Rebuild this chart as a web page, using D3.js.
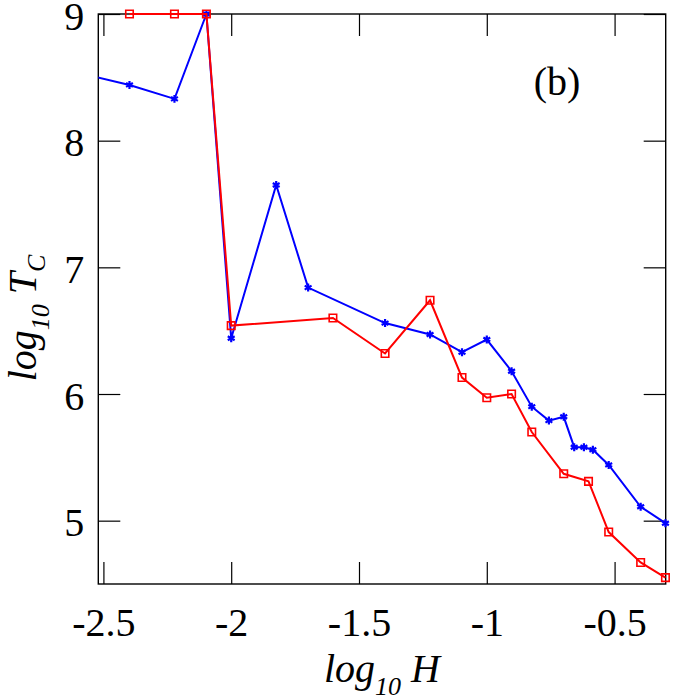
<!DOCTYPE html>
<html>
<head>
<meta charset="utf-8">
<script src="https://cdn.jsdelivr.net/npm/d3@7"></script>
<style>
  html, body { margin: 0; padding: 0; background: #fff; }
  svg { display: block; }
  text { font-family: "Liberation Serif", "Times New Roman", serif; fill: #000; }
</style>
</head>
<body>
<svg id="chart" width="700" height="700"></svg>
<script>
// ---- data ----
const xBlue = [-2.523, -2.398, -2.222, -2.097, -2.0, -1.824, -1.699, -1.398, -1.222, -1.097, -1.0, -0.903, -0.824, -0.757, -0.699, -0.658, -0.620, -0.585, -0.523, -0.398, -0.301];
const yBlue = [8.50, 8.44, 8.33, 9.00, 6.44, 7.65, 6.84, 6.56, 6.47, 6.33, 6.43, 6.18, 5.90, 5.79, 5.82, 5.58, 5.58, 5.56, 5.44, 5.11, 4.98];
const xRed = [-2.398, -2.222, -2.097, -2.0, -1.602, -1.398, -1.222, -1.097, -1.0, -0.903, -0.824, -0.699, -0.602, -0.523, -0.398, -0.301];
const yRed = [9.00, 9.00, 9.00, 6.54, 6.60, 6.32, 6.74, 6.13, 5.97, 6.00, 5.70, 5.37, 5.31, 4.91, 4.67, 4.55];
const xTicks = [-2.5, -2, -1.5, -1, -0.5];
const xTickLabels = ["-2.5", "-2", "-1.5", "-1", "-0.5"];
const yTicks = [5, 6, 7, 8, 9];
const yTickLabels = ["5", "6", "7", "8", "9"];
const xDomain = [-2.52, -0.3];
const yDomain = [4.5, 9];

// ---- layout ----
const W = 700, H = 700;
const margin = { left: 98.3, right: 34.3, top: 14, bottom: 116 };
const iw = W - margin.left - margin.right;
const ih = H - margin.top - margin.bottom;

const svg = d3.select("#chart");
const g = svg.append("g").attr("transform", `translate(${margin.left},${margin.top})`);

const x = d3.scaleLinear().domain(xDomain).range([0, iw]);
const y = d3.scaleLinear().domain(yDomain).range([ih, 0]);

const TICK = 22;

// axes with inward ticks
const axB = g.append("g").attr("transform", `translate(0,${ih})`)
  .call(d3.axisBottom(x).tickValues(xTicks).tickSize(-TICK).tickFormat((d, i) => xTickLabels[i]));
const axT = g.append("g")
  .call(d3.axisTop(x).tickValues(xTicks).tickSize(-TICK).tickFormat(""));
const axL = g.append("g")
  .call(d3.axisLeft(y).tickValues(yTicks).tickSize(-TICK).tickFormat((d, i) => yTickLabels[i]));
const axR = g.append("g").attr("transform", `translate(${iw},0)`)
  .call(d3.axisRight(y).tickValues(yTicks).tickSize(-TICK).tickFormat(""));

[axB, axT, axL, axR].forEach(a => {
  a.select(".domain").remove();
  a.selectAll(".tick line").attr("stroke", "#000").attr("stroke-width", 1.2);
});
axB.selectAll(".tick text")
  .attr("y", 52).attr("dy", 0)
  .style("font-size", "40px");
axL.selectAll(".tick text")
  .attr("x", -14).attr("dy", "0.38em")
  .style("font-size", "40px");

// frame
g.append("rect")
  .attr("x", 0).attr("y", 0).attr("width", iw).attr("height", ih)
  .attr("fill", "none").attr("stroke", "#000").attr("stroke-width", 1.4);

// clip for lines
svg.append("defs").append("clipPath").attr("id", "clip")
  .append("rect").attr("x", 0).attr("y", -4).attr("width", iw + 4).attr("height", ih + 8);

const line = d3.line().x(d => x(d[0])).y(d => y(d[1]));
const blue = xBlue.map((v, i) => [v, yBlue[i]]);
const red = xRed.map((v, i) => [v, yRed[i]]);
const inDom = d => d[0] >= xDomain[0] && d[0] <= xDomain[1] + 1e-9;

const plot = g.append("g");
plot.append("path").datum(blue)
  .attr("clip-path", "url(#clip)")
  .attr("d", line).attr("fill", "none").attr("stroke", "#0000ff").attr("stroke-width", 2);
const star = d3.symbol().type(d3.symbolAsterisk).size(44);
plot.selectAll(".bm").data(blue.filter(inDom)).enter().append("path")
  .attr("class", "bm")
  .attr("transform", d => `translate(${x(d[0])},${y(d[1])})`)
  .attr("d", star).attr("fill", "none").attr("stroke", "#0000ff").attr("stroke-width", 2.2);

plot.append("path").datum(red)
  .attr("clip-path", "url(#clip)")
  .attr("d", line).attr("fill", "none").attr("stroke", "#ff0000").attr("stroke-width", 2);
const sq = d3.symbol().type(d3.symbolSquare).size(56);
plot.selectAll(".rm").data(red.filter(inDom)).enter().append("path")
  .attr("class", "rm")
  .attr("transform", d => `translate(${x(d[0])},${y(d[1])})`)
  .attr("d", sq).attr("fill", "none").attr("stroke", "#ff0000").attr("stroke-width", 1.6);

// panel label
svg.append("text").attr("x", 557).attr("y", 94.5)
  .attr("text-anchor", "middle").style("font-size", "40px").text("(b)");

// x axis title
const xt = svg.append("text").attr("x", margin.left + iw / 2).attr("y", 681.7)
  .attr("text-anchor", "middle").style("font-size", "40px").style("font-style", "italic");
xt.append("tspan").text("log");
xt.append("tspan").attr("dy", 13).style("font-size", "26px").text("10");
xt.append("tspan").attr("dy", -13).text(" H");

// y axis title
const yt = svg.append("text")
  .attr("transform", "translate(36,318) rotate(-90)")
  .attr("text-anchor", "middle").style("font-size", "40px").style("font-style", "italic");
yt.append("tspan").text("log");
yt.append("tspan").attr("dy", 13).style("font-size", "26px").text("10");
yt.append("tspan").attr("dy", -13).text(" T");
yt.append("tspan").attr("dy", 9).style("font-size", "26px").text("C");
</script>
</body>
</html>
